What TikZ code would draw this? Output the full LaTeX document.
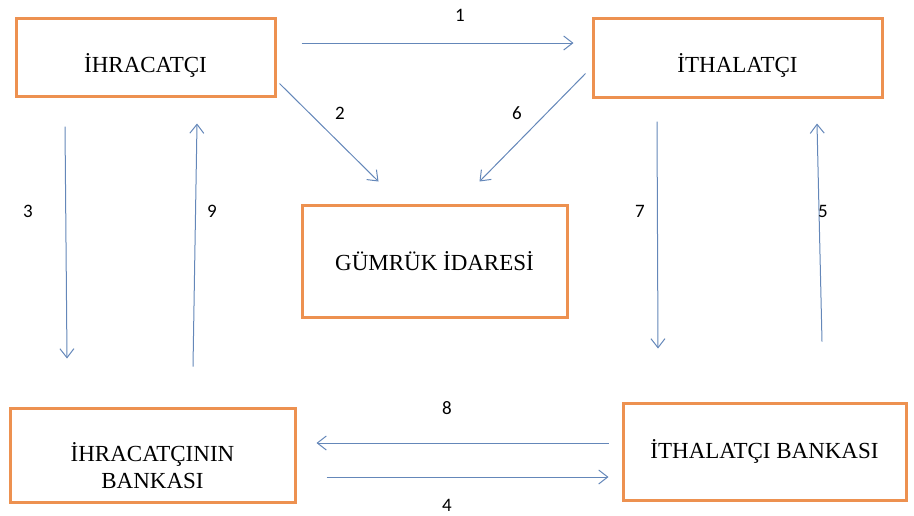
\documentclass[tikz,border=0pt]{standalone}
\usepackage{fontspec}
\setmainfont{Liberation Serif}
\newfontfamily\numfont{Carlito}
\usetikzlibrary{arrows.meta}
\definecolor{kutuTuruncu}{RGB}{237,145,80}
\definecolor{okMavi}{RGB}{100,135,185}
\newcommand\kaydir[2]{\raisebox{#1}[\height][\depth]{#2}}
\tikzset{
    kutu/.style={draw=kutuTuruncu, line width=3pt, inner sep=0pt, align=center, font=\fontsize{23}{29}\selectfont},
    ok/.style={draw=okMavi, line width=1pt, -{Straight Barb[length=9pt,width=14pt]}},
    num/.style={font=\numfont\fontsize{19}{19}\selectfont}
}
\begin{document}
\begin{tikzpicture}[x=1pt,y=-1pt]
    \useasboundingbox (0,0) rectangle (914,515);

    \node[kutu, minimum width=259pt, minimum height=78pt] (ihr) at (145.5,57) {\kaydir{-8pt}{İHRACATÇI}};
    \node[kutu, minimum width=289pt, minimum height=79pt] (ith) at (737.5,57.5) {\kaydir{-8pt}{İTHALATÇI}};
    \node[kutu, minimum width=265pt, minimum height=112pt] (gum) at (434.5,261) {GÜMRÜK İDARESİ};
    \node[kutu, minimum width=285pt, minimum height=94pt] (ibank) at (152.5,455) {\kaydir{-11pt}{\shortstack{İHRACATÇININ\\[4pt]BANKASI}}};
    \node[kutu, minimum width=283pt, minimum height=97pt] (tbank) at (764.5,451.5) {İTHALATÇI BANKASI};

    \draw[ok] ([shift={(25pt,14pt)}]ihr.east) -- ([shift={(-18pt,14.5pt)}]ith.west); %1
    \draw[ok] ([shift={(3pt,14pt)}]ihr.south east) -- ([shift={(78pt,22pt)}]gum.north west); %2
    \draw[ok] ([shift={(-80.5pt,-29pt)}]ihr.south) -- ([shift={(-85.5pt,48pt)}]ibank.north); %3
    \draw[ok] ([shift={(30pt,-22pt)}]ibank.east) -- ([shift={(-13pt,-25.5pt)}]tbank.west); %4
    \draw[ok] ([shift={(57.5pt,60pt)}]tbank.north) -- ([shift={(79.5pt,-25pt)}]ith.south); %5
    \draw[ok] ([shift={(-6pt,25pt)}]ith.south west) -- ([shift={(-89pt,22pt)}]gum.north east); %6
    \draw[ok] ([shift={(-80.5pt,-23pt)}]ith.south) -- ([shift={(-106.5pt,53pt)}]tbank.north); %7
    \draw[ok] ([shift={(-13pt,8.5pt)}]tbank.west) -- ([shift={(20pt,12pt)}]ibank.east); %8
    \draw[ok] ([shift={(40.5pt,40pt)}]ibank.north) -- ([shift={(51.5pt,-26pt)}]ihr.south); %9

    \node[num] (n1) at (460,15) {1};
    \node[num] (n2) at (340,113) {2};
    \node[num] (n3) at (28,211) {3};
    \node[num] (n4) at (447,505) {4};
    \node[num] (n5) at (823,211) {5};
    \node[num] (n6) at (517,113) {6};
    \node[num] (n7) at (640,211) {7};
    \node[num] (n8) at (447,408) {8};
    \node[num] (n9) at (212,211) {9};
\end{tikzpicture}
\end{document}
